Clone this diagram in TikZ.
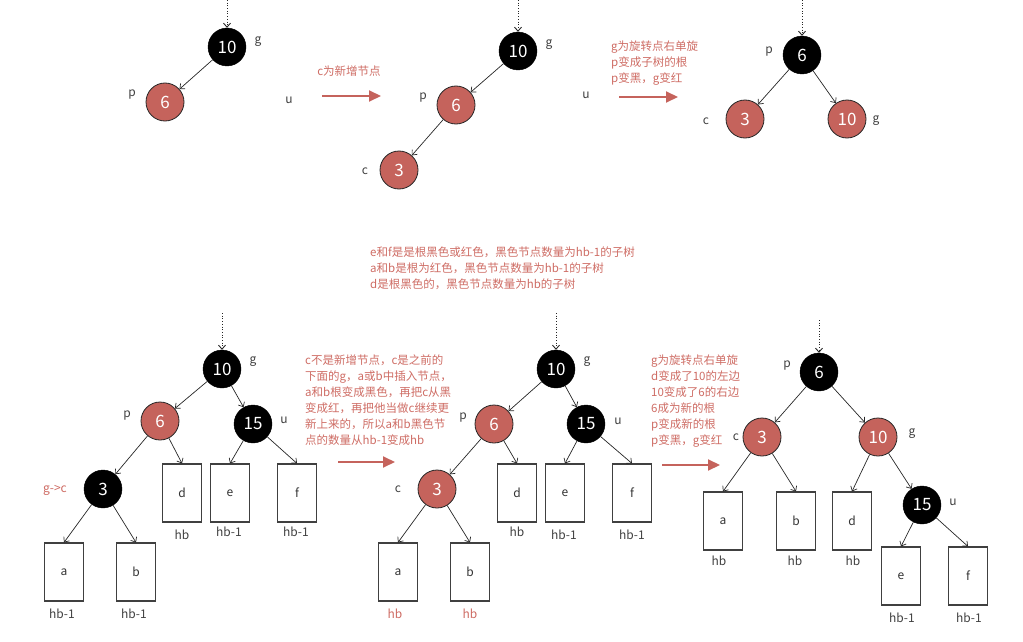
\documentclass[tikz,border=0pt]{standalone}
\usepackage{fontspec}
\setmainfont{Noto Sans CJK SC}
\usetikzlibrary{arrows.meta}
\definecolor{rbred}{RGB}{197,99,92}
\definecolor{notered}{RGB}{206,108,100}
\begin{document}
\begin{tikzpicture}[x=1pt,y=-1pt,
  bnode/.style={circle,fill=black,draw=black,minimum size=38pt,inner sep=0pt,
    text=white,font=\fontsize{17}{17}\selectfont},
  rnode/.style={bnode,fill=rbred,draw=black!85,line width=0.8pt},
  tree/.style={draw=black!75,line width=1.1pt,minimum width=39pt,
    minimum height=58pt,inner sep=0pt,text=black!80,font=\fontsize{12}{12}\selectfont},
  lbl/.style={font=\fontsize{12}{12}\selectfont,text=black!75,inner sep=0pt},
  rlbl/.style={lbl,text=notered},
  note/.style={font=\fontsize{11.5}{16}\selectfont,text=notered,align=left,
    anchor=north west,inner sep=0pt},
  edge/.style={-{Straight Barb[length=4pt,width=7pt]},black!85,line width=0.7pt},
  feed/.style={edge,dotted,line width=0.9pt},
  goarrow/.style={-{Triangle[length=12pt,width=11pt]},rbred,line width=2pt}]
\useasboundingbox (0,0) rectangle (1023,642);

% --- top row, step 1
\coordinate (in1) at (227,0);
\node[bnode] (g1) at (227,47) {10};
\node[rnode] (p1) at (165,102) {6};
\node[lbl] at (258,42) {g};
\node[lbl] at (132,95) {p};
\node[lbl] at (289,100) {u};
\draw[feed] (in1) -- (g1);
\draw[edge] (g1) -- (p1);
\coordinate (s1) at (322,96);
\coordinate (t1) at (381,96);
\draw[goarrow] (s1) -- (t1);
\node[font=\fontsize{11.5}{16}\selectfont,text=notered] at (349,71) {c为新增节点};

% --- top row, step 2
\coordinate (in2) at (518,0);
\node[bnode] (g2) at (518,51) {10};
\node[rnode] (p2) at (456,105) {6};
\node[rnode] (c2) at (399,170) {3};
\node[lbl] at (549,45) {g};
\node[lbl] at (423,98) {p};
\node[lbl] at (365,171) {c};
\node[lbl] at (586,95) {u};
\draw[feed] (in2) -- (g2);
\draw[edge] (g2) -- (p2);
\draw[edge] (p2) -- (c2);
\coordinate (s2) at (619,97);
\coordinate (t2) at (678,97);
\draw[goarrow] (s2) -- (t2);
\node[note] at (611,41) {g为旋转点右单旋\\p变成子树的根\\p变黑，g变红};

% --- top row, step 3
\coordinate (in3) at (802,0);
\node[bnode] (p3) at (802,55) {6};
\node[rnode] (c3) at (745,119) {3};
\node[rnode] (g3) at (847,119) {10};
\node[lbl] at (769,52) {p};
\node[lbl] at (706,121) {c};
\node[lbl] at (876,121) {g};
\draw[feed] (in3) -- (p3);
\draw[edge] (p3) -- (c3);
\draw[edge] (p3) -- (g3);

% --- middle note
\node[note] at (370,247) {e和f是是根黑色或红色，黑色节点数量为hb-1的子树\\a和b是根为红色，黑色节点数量为hb-1的子树\\d是根黑色的，黑色节点数量为hb的子树};

% --- bottom row, step 1
\coordinate (in4) at (222,313);
\node[bnode] (g4) at (222,369) {10};
\node[rnode] (p4) at (160,421) {6};
\node[bnode] (u4) at (253,424) {15};
\node[bnode] (c4) at (103,489) {3};
\node[tree] (a4) at (64,572) {a};
\node[tree] (b4) at (136,572) {b};
\node[tree] (d4) at (182,493) {d};
\node[tree] (e4) at (230,493) {e};
\node[tree] (f4) at (297,493) {f};
\node[lbl] at (253,362) {g};
\node[lbl] at (127,416) {p};
\node[lbl] at (284,420) {u};
\node[rlbl] at (55,490) {g->c};
\node[lbl] at (62,614) {hb-1};
\node[lbl] at (134,614) {hb-1};
\node[lbl] at (182,535) {hb};
\node[lbl] at (229,532) {hb-1};
\node[lbl] at (296,532) {hb-1};
\draw[feed] (in4) -- (g4);
\draw[edge] (g4) -- (p4);
\draw[edge] (g4) -- (u4);
\draw[edge] (p4) -- (c4);
\draw[edge] (p4) -- (d4.north);
\draw[edge] (u4) -- (e4.north);
\draw[edge] (u4) -- (f4.north);
\draw[edge] (c4) -- (a4.north);
\draw[edge] (c4) -- (b4.north);
\node[note] at (305,355) {c不是新增节点，c是之前的\\下面的g，a或b中插入节点，\\a和b根变成黑色，再把c从黑\\变成红，再把他当做c继续更\\新上来的，所以a和b黑色节\\点的数量从hb-1变成hb};
\coordinate (s4) at (338,462);
\coordinate (t4) at (395,462);
\draw[goarrow] (s4) -- (t4);

% --- bottom row, step 2
\coordinate (in5) at (556,313);
\node[bnode] (g5) at (556,369) {10};
\node[rnode] (p5) at (494,424) {6};
\node[bnode] (u5) at (586,424) {15};
\node[rnode] (c5) at (437,489) {3};
\node[tree] (a5) at (398,572) {a};
\node[tree] (b5) at (470,572) {b};
\node[tree] (d5) at (517,493) {d};
\node[tree] (e5) at (565,493) {e};
\node[tree] (f5) at (632,493) {f};
\node[lbl] at (587,362) {g};
\node[lbl] at (463,418) {p};
\node[lbl] at (618,421) {u};
\node[lbl] at (398,489) {c};
\node[rlbl] at (395,614) {hb};
\node[rlbl] at (470,614) {hb};
\node[lbl] at (517,532) {hb};
\node[lbl] at (564,535) {hb-1};
\node[lbl] at (632,535) {hb-1};
\draw[feed] (in5) -- (g5);
\draw[edge] (g5) -- (p5);
\draw[edge] (g5) -- (u5);
\draw[edge] (p5) -- (c5);
\draw[edge] (p5) -- (d5.north);
\draw[edge] (u5) -- (e5.north);
\draw[edge] (u5) -- (f5.north);
\draw[edge] (c5) -- (a5.north);
\draw[edge] (c5) -- (b5.north);
\node[note] at (651,355) {g为旋转点右单旋\\d变成了10的左边\\10变成了6的右边\\6成为新的根\\p变成新的根\\p变黑，g变红};
\coordinate (s5) at (662,465);
\coordinate (t5) at (720,465);
\draw[goarrow] (s5) -- (t5);

% --- bottom row, step 3
\coordinate (in6) at (819,320);
\node[bnode] (p6) at (819,372) {6};
\node[rnode] (c6) at (762,437) {3};
\node[rnode] (g6) at (878,437) {10};
\node[bnode] (u6) at (922,505) {15};
\node[tree] (a6) at (723,521) {a};
\node[tree] (b6) at (796,521) {b};
\node[tree] (d6) at (852,521) {d};
\node[tree] (e6) at (901,576) {e};
\node[tree] (f6) at (968,576) {f};
\node[lbl] at (787,366) {p};
\node[lbl] at (736,437) {c};
\node[lbl] at (912,434) {g};
\node[lbl] at (953,502) {u};
\node[lbl] at (719,561) {hb};
\node[lbl] at (795,561) {hb};
\node[lbl] at (853,561) {hb};
\node[lbl] at (902,618) {hb-1};
\node[lbl] at (969,618) {hb-1};
\draw[feed] (in6) -- (p6);
\draw[edge] (p6) -- (c6);
\draw[edge] (p6) -- (g6);
\draw[edge] (c6) -- (a6.north);
\draw[edge] (c6) -- (b6.north);
\draw[edge] (g6) -- (d6.north);
\draw[edge] (g6) -- (u6);
\draw[edge] (u6) -- (e6.north);
\draw[edge] (u6) -- (f6.north);
\end{tikzpicture}
\end{document}
